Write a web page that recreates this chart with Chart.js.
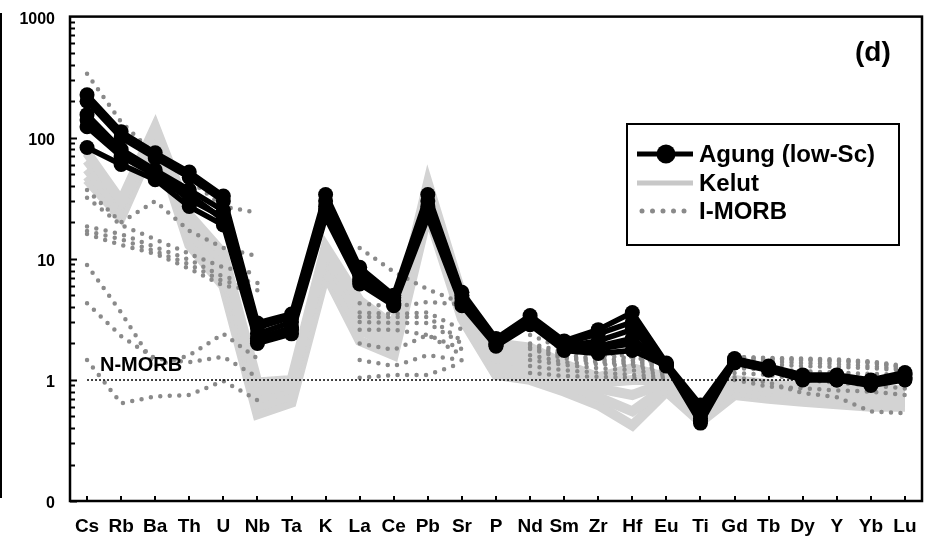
<!DOCTYPE html>
<html>
<head>
<meta charset="utf-8">
<script src="https://cdn.jsdelivr.net/npm/chart.js@4.4.1/dist/chart.umd.min.js"></script>
<style>
  html, body { margin: 0; padding: 0; background: #fff; }
  #wrap { width: 933px; height: 539px; }
</style>
</head>
<body>
<div id="wrap"><canvas id="myChart" width="933" height="539"></canvas></div>
<script>
// elements, normalised to N-MORB
const elements = ['Cs','Rb','Ba','Th','U','Nb','Ta','K','La','Ce','Pb','Sr','P','Nd','Sm','Zr','Hf','Eu','Ti','Gd','Tb','Dy','Y','Yb','Lu'];

const seriesNames = ['Agung (low-Sc)', 'Kelut', 'I-MORB'];

// Agung (low-Sc) samples
const agung1 = [226, 112, 75, 52, 33, 2.95, 3.5, 34, 8.5, 5.0, 34, 5.3, 2.2, 3.4, 2.1, 2.6, 3.6, 1.38, 0.62, 1.5, 1.3, 1.1, 1.1, 1.0, 1.15];
const agung2 = [200, 100, 68, 47, 30, 2.7, 3.3, 30, 8.0, 4.8, 30, 5.0, 2.1, 3.2, 2.0, 2.4, 3.0, 1.35, 0.58, 1.48, 1.28, 1.08, 1.08, 0.98, 1.12];
const agung3 = [155, 80, 54, 37, 25, 2.4, 3.0, 27, 7.3, 4.5, 27, 4.7, 2.0, 3.1, 1.9, 2.1, 2.6, 1.33, 0.52, 1.45, 1.25, 1.05, 1.05, 0.96, 1.1];
const agung4 = [123, 70, 49, 31, 22, 2.2, 2.7, 25, 6.8, 4.3, 25, 4.4, 1.95, 3.0, 1.85, 1.9, 2.2, 1.32, 0.48, 1.42, 1.22, 1.02, 1.02, 0.94, 1.05];
const agung5 = [83, 60, 45, 27, 19, 2.0, 2.4, 22, 6.2, 4.1, 22, 4.1, 1.9, 2.85, 1.75, 1.65, 1.75, 1.3, 0.44, 1.38, 1.2, 1.0, 1.0, 0.9, 1.0];
const agung6 = [140, 76, 51, 34, 21, 2.1, 2.6, 24, 6.5, 4.2, 24, 4.3, 1.95, 2.95, 1.8, 1.8, 2.0, 1.32, 0.46, 1.4, 1.22, 1.02, 1.0, 0.92, 1.02];

// Kelut samples
const kelut1 = [75, 30, 123, 23, 11, 0.95, 1.0, 12.5, 4.5, 2.8, 42, 5.0, 2.0, 1.85, 1.35, 1.05, 1.25, 1.05, 0.6, 1.0, 0.92, 0.88, 0.85, 0.83, 0.82];
const kelut2 = [65, 28, 118, 20, 9.5, 0.8, 0.92, 12, 3.8, 2.5, 38, 4.5, 1.75, 1.6, 1.2, 0.95, 1.0, 1.0, 0.56, 0.95, 0.86, 0.8, 0.78, 0.76, 0.76];
const kelut3 = [55, 25, 110, 17, 8, 0.7, 0.85, 11, 3.2, 2.2, 32, 4.0, 1.5, 1.4, 1.1, 0.85, 0.75, 0.95, 0.52, 0.88, 0.8, 0.75, 0.72, 0.7, 0.7];
const kelut4 = [48, 23, 100, 15, 7, 0.6, 0.75, 9, 2.6, 1.9, 28, 3.6, 1.25, 1.2, 0.95, 0.72, 0.55, 0.88, 0.48, 0.8, 0.75, 0.7, 0.67, 0.65, 0.65];
const kelut5 = [45, 22, 95, 13, 6, 0.52, 0.65, 7.5, 2.1, 1.6, 24, 3.2, 1.1, 1.0, 0.8, 0.62, 0.42, 0.8, 0.45, 0.75, 0.7, 0.66, 0.63, 0.6, 0.6];

// I-MORB samples (no Ta, K, P, Ti)
const imorb1 = [338, 135, 72, 45, 27, 24, null, null, 12.3, 7.8, 5.6, 4.3, null, 2.35, 1.8, 1.7, 1.55, 1.35, null, 1.55, 1.52, 1.5, 1.48, 1.42, 1.3];
const imorb2 = [37, 20, 30, 17, 12.3, 10.5, null, null, 4.3, 4.0, 4.4, 4.2, null, 2.0, 1.7, 1.6, 1.5, 1.3, null, 1.55, 1.5, 1.48, 1.45, 1.4, 1.28];
const imorb3 = [32, 19, 14.5, 11, 8.5, 7.5, null, null, 3.6, 3.5, 3.6, 2.6, null, 1.95, 1.6, 1.5, 1.45, 1.28, null, 1.5, 1.48, 1.45, 1.42, 1.38, 1.25];
const imorb4 = [18.5, 16, 12.5, 9.8, 7.1, 6.3, null, null, 3.3, 3.3, 3.3, 2.1, null, 1.85, 1.55, 1.45, 1.4, 1.25, null, 1.45, 1.42, 1.38, 1.35, 1.3, 1.22];
const imorb5 = [17, 14.5, 11.5, 9, 6.5, 5.9, null, null, 3.0, 2.95, 2.95, 2.0, null, 1.8, 1.5, 1.4, 1.35, 1.2, null, 1.4, 1.35, 1.3, 1.28, 1.25, 1.2];
const imorb6 = [16, 13, 11, 8.3, 6.0, 5.5, null, null, 2.6, 2.6, 2.35, 1.8, null, 1.6, 1.4, 1.35, 1.3, 1.15, null, 1.25, 1.22, 1.18, 1.15, 1.12, 1.1];
const imorb7 = [8.9, 3.6, 1.3, 1.6, 2.4, 1.5, null, null, 2.0, 1.77, 2.35, 1.6, null, 1.46, 1.33, 1.25, 1.2, 1.1, null, 1.14, 1.1, 1.0, 0.95, 0.9, 0.85];
const imorb8 = [4.3, 2.3, 1.5, 1.4, 1.55, 1.05, null, null, 1.46, 1.3, 1.6, 1.45, null, 1.3, 1.2, 1.15, 1.1, 1.06, null, 1.05, 0.95, 0.78, 0.72, 0.55, 0.53];
const imorb9 = [1.46, 0.64, 0.73, 0.75, 0.98, 0.68, null, null, 1.04, 1.1, 1.1, 1.38, null, 1.14, 1.08, 1.06, 1.04, 1.02, null, 1.0, 0.88, 0.85, 0.82, 0.8, 0.75];

// N-MORB reference
const nMorb = [1, 1, 1, 1, 1, 1, 1, 1, 1, 1, 1, 1, 1, 1, 1, 1, 1, 1, 1, 1, 1, 1, 1, 1, 1];

const yTicks = [0.1, 1, 10, 100, 1000];
const yTickLabels = ['0', '1', '10', '100', '1000'];

const FONT = '"Liberation Sans", Arial, sans-serif';
const BLACK = '#000000';
const KELUT_GREY = '#d3d3d3';
const MORB_GREY = '#8a8a8a';

const agungSets = [agung1, agung2, agung3, agung4, agung5, agung6].map(d => ({
  label: seriesNames[0],
  data: d,
  borderColor: BLACK,
  backgroundColor: BLACK,
  borderWidth: 5.5,
  pointRadius: 7.5,
  pointBorderWidth: 0,
  borderJoinStyle: 'round'
}));

const nMorbSet = {
  label: 'N-MORB',
  data: nMorb,
  borderColor: BLACK,
  borderWidth: 1.5,
  borderDash: [2, 2],
  pointRadius: 0
};

const imorbSets = [imorb1, imorb2, imorb3, imorb4, imorb5, imorb6, imorb7, imorb8, imorb9].map(d => ({
  label: seriesNames[2],
  data: d,
  borderColor: MORB_GREY,
  borderWidth: 4.5,
  borderDash: [0, 9.5],
  borderCapStyle: 'round',
  pointRadius: 0,
  spanGaps: false
}));

const kelutSets = [kelut1, kelut2, kelut3, kelut4, kelut5].map(d => ({
  label: seriesNames[1],
  data: d,
  borderColor: KELUT_GREY,
  borderWidth: 10,
  pointRadius: 0
}));

// draw inward ticks, frame, labels and legend box
const framePlugin = {
  id: 'frame',
  afterDatasetsDraw(chart) {
    const ctx = chart.ctx;
    const a = chart.chartArea;
    const x = chart.scales.x;
    const y = chart.scales.y;
    ctx.save();
    ctx.strokeStyle = BLACK;
    ctx.lineWidth = 2;
    // y ticks
    [0.1, 1, 10, 100].forEach(d => {
      for (let m = 1; m <= 9; m++) {
        const py = Math.round(y.getPixelForValue(d * m)) + 0.5;
        ctx.beginPath();
        ctx.moveTo(a.left, py);
        ctx.lineTo(a.left + (m === 1 ? 7 : 5), py);
        ctx.stroke();
      }
    });
    // x ticks
    elements.forEach((e, i) => {
      const px = Math.round(x.getPixelForValue(i));
      ctx.beginPath();
      ctx.moveTo(px, a.bottom);
      ctx.lineTo(px, a.bottom - 5);
      ctx.stroke();
    });
    // frame
    ctx.lineWidth = 2.5;
    ctx.strokeRect(a.left, a.top, a.right - a.left, a.bottom - a.top);
    // stray edge line from the original crop
    ctx.lineWidth = 2;
    ctx.beginPath();
    ctx.moveTo(1, 13);
    ctx.lineTo(1, 498);
    ctx.stroke();
    ctx.restore();
  },
  afterDraw(chart) {
    const ctx = chart.ctx;
    ctx.save();
    ctx.fillStyle = BLACK;
    ctx.textBaseline = 'middle';
    ctx.textAlign = 'left';
    ctx.font = 'bold 20px ' + FONT;
    ctx.fillText('N-MORB', 100, 365);
    ctx.font = 'bold 28px ' + FONT;
    ctx.fillText('(d)', 855, 53);

    // legend
    ctx.strokeStyle = BLACK;
    ctx.lineWidth = 2;
    ctx.strokeRect(627, 124, 272, 121);
    const rows = [154, 183, 211];
    ctx.lineWidth = 5;
    ctx.beginPath();
    ctx.moveTo(637, rows[0]);
    ctx.lineTo(693, rows[0]);
    ctx.stroke();
    ctx.beginPath();
    ctx.arc(666, rows[0], 9.5, 0, Math.PI * 2);
    ctx.fill();
    ctx.strokeStyle = '#c8c8c8';
    ctx.beginPath();
    ctx.moveTo(637, rows[1]);
    ctx.lineTo(693, rows[1]);
    ctx.stroke();
    ctx.fillStyle = MORB_GREY;
    [642, 652.5, 663, 673.5, 684].forEach(px => {
      ctx.beginPath();
      ctx.arc(px, rows[2], 2.5, 0, Math.PI * 2);
      ctx.fill();
    });
    ctx.fillStyle = BLACK;
    ctx.font = 'bold 24px ' + FONT;
    seriesNames.forEach((n, i) => ctx.fillText(n, 699, rows[i] + 1));
    ctx.restore();
  }
};

const ctx = document.getElementById('myChart').getContext('2d');
const chart = new Chart(ctx, {
  type: 'line',
  data: {
    labels: elements,
    datasets: [...agungSets, nMorbSet, ...imorbSets, ...kelutSets]
  },
  options: {
    responsive: false,
    animation: false,
    events: [],
    layout: { padding: { top: 9, right: 11, left: 0, bottom: 0 } },
    elements: { line: { tension: 0 } },
    plugins: {
      legend: { display: false },
      tooltip: { enabled: false }
    },
    scales: {
      x: {
        type: 'category',
        offset: true,
        grid: { display: false },
        border: { display: false },
        ticks: {
          color: BLACK,
          font: { family: FONT, size: 19, weight: 'bold' },
          padding: 6,
          maxRotation: 0,
          autoSkip: false
        },
        afterFit: s => { s.height = 38; }
      },
      y: {
        type: 'logarithmic',
        min: 0.1,
        max: 1000,
        grid: { display: false },
        border: { display: false },
        afterBuildTicks: s => { s.ticks = yTicks.map(v => ({ value: v })); },
        ticks: {
          color: BLACK,
          font: { family: FONT, size: 16, weight: 'bold' },
          padding: 7,
          labelOffset: 3,
          callback: v => {
            const i = yTicks.indexOf(v);
            return i >= 0 ? yTickLabels[i] : '';
          }
        },
        afterFit: s => { s.width = 70; }
      }
    }
  },
  plugins: [framePlugin]
});
</script>
</body>
</html>
